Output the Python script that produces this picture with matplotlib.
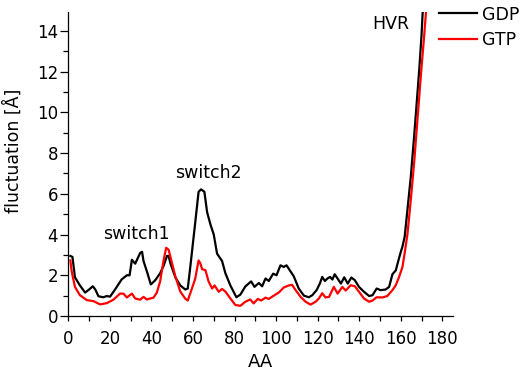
import matplotlib
matplotlib.use("Agg")
import matplotlib.pyplot as plt
from matplotlib.ticker import MultipleLocator

plt.rcParams['font.family'] = ['DejaVu Sans']

# GDP (black) trace: residue index and fluctuation [Å]
gdp_aa = [1, 2, 3.2, 5.6, 8.1, 10, 11.8, 13, 14.5, 16.9, 18.5, 20.1, 22.5, 25.7, 28.2, 29.5,
          30.6, 32.2, 34.6, 35.5, 36.2, 38.1, 39.7, 41.8, 44.2, 45.8, 47.5, 48.3, 49.1, 51.5, 53.9,
          56.3, 57.5, 58.7, 61.1, 62.7, 63.9, 65.5, 66.8, 68.4, 70.0, 71.6, 74, 75.6, 78,
          80.9, 82.8, 85.2, 88, 89.6, 91.7, 93.3, 94.9, 96.5, 98.6, 100.2, 102.1, 103.7,
          105, 106.9, 108.5, 110.9, 113.4, 115.8, 117.4, 119.5, 121.1, 122.2, 123.5, 124.7,
          126, 127.1, 128.2, 129.6, 131.2, 132.8, 134.5, 136.2, 137.9, 139.9, 142.3, 144.8,
          146.4, 148.4, 150.3, 152.7, 154.4, 156, 157.6, 159.2, 160, 160.8, 161.9, 163.2,
          164.8, 166.5, 167.7, 168.9, 170, 170.6, 171.2]
gdp_val = [2.95, 2.9, 1.9, 1.5, 1.15, 1.3, 1.46, 1.3, 0.97, 0.92, 0.98, 0.95, 1.3, 1.8, 2.0, 2.0,
           2.76, 2.57, 3.1, 3.15, 2.7, 2.1, 1.55, 1.75, 2.1, 2.45, 2.95, 2.95, 2.6, 1.9, 1.5,
           1.3, 1.35, 2.4, 4.6, 6.1, 6.22, 6.1, 5.1, 4.5, 4.0, 3.06, 2.7, 2.1, 1.5,
           0.92, 1.05, 1.45, 1.7, 1.43, 1.62, 1.46, 1.84, 1.72, 2.08, 2.0, 2.49, 2.41,
           2.49, 2.2, 1.95, 1.35, 1.0, 0.92, 1.02, 1.27, 1.6, 1.92, 1.72, 1.84,
           1.92, 1.79, 2.05, 1.84, 1.59, 1.9, 1.59, 1.89, 1.76, 1.43, 1.19, 0.98,
           1.02, 1.35, 1.27, 1.3, 1.43, 2.05, 2.24, 2.85, 3.14, 3.4, 3.9, 5.2,
           6.8, 8.9, 10.5, 12.1, 13.8, 15.0, 16.0]

# GTP (red) trace
gtp_aa = [1, 1.6, 3.2, 5.6, 8.9, 12.1, 15.3, 18.5, 21.7, 24.9, 26.5, 28.2, 30.6, 32.2, 34.6,
          36.2, 37.8, 39.4, 41, 42.6, 44.2, 45.8, 47.1, 48.3, 49.9, 51.5, 53.9, 56.3, 57.5,
          59.5, 61.1, 62.7, 63.5, 64.4, 66, 67.5, 69.2, 70.4, 72.4, 74, 75.6, 78, 80.4,
          82.8, 85.2, 87.6, 89.2, 91.2, 92.8, 94.9, 96.5, 98.9, 101.3, 103.7, 106.1,
          107.7, 109.4, 111.8, 114.2, 116.6, 119, 120.6, 122.2, 123.8, 125.5, 127.8,
          129.6, 131.9, 133.5, 135.9, 137.9, 139.9, 142.3, 144.8, 146.4, 148.4, 151.1,
          153.5, 156, 157.6, 159.2, 160.8, 161.9, 163.2, 164.8, 166.5, 168.1, 169.7,
          171.3, 172.2, 173]
gtp_val = [2.73, 2.2, 1.43, 1.02, 0.78, 0.73, 0.57, 0.63, 0.8, 1.1, 1.1, 0.91, 1.1, 0.86, 0.8,
           0.94, 0.81, 0.86, 0.9, 1.15, 1.7, 2.7, 3.35, 3.25, 2.6, 1.95, 1.2, 0.85, 0.76,
           1.35, 1.84, 2.73, 2.6, 2.3, 2.25, 1.7, 1.35, 1.5, 1.19, 1.33, 1.2, 0.86, 0.54,
           0.5, 0.7, 0.81, 0.62, 0.84, 0.76, 0.9, 0.84, 1.0, 1.15, 1.4, 1.5,
           1.53, 1.27, 0.94, 0.7, 0.56, 0.7, 0.86, 1.12, 0.91, 0.94, 1.43,
           1.1, 1.43, 1.25, 1.51, 1.46, 1.19, 0.86, 0.7, 0.76, 0.92, 0.91,
           0.98, 1.27, 1.51, 1.92, 2.4, 3.1, 4.0, 5.66, 7.6, 9.72, 11.84,
           13.8, 15.0, 16.0]

series_labels = ["GDP", "GTP"]
annotations = [("switch1", 33, 3.79), ("switch2", 67.6, 6.77), ("HVR", 155, 14.1)]

fig = plt.figure(figsize=(5.29, 3.71), dpi=100)
ax = fig.add_axes([68.3/529, 55/371, (452.7-68.3)/529, (316-12)/371])

ax.plot(gdp_aa, gdp_val, color='black', lw=1.6, label=series_labels[0])
ax.plot(gtp_aa, gtp_val, color='#ff0000', lw=1.6, label=series_labels[1])

ax.set_xlim(0, 185)
ax.set_ylim(0, 14.93)
ax.xaxis.set_major_locator(MultipleLocator(20))
ax.xaxis.set_minor_locator(MultipleLocator(10))
ax.yaxis.set_major_locator(MultipleLocator(2))
ax.yaxis.set_minor_locator(MultipleLocator(1))
ax.tick_params(axis='x', which='both', length=3.6, width=0.9, direction='out')
ax.tick_params(axis='x', which='major', labelsize=12, pad=6.8)
ax.tick_params(axis='y', which='major', length=6, width=0.9, labelsize=12, pad=1.5,
               direction='out')
ax.tick_params(axis='y', which='minor', length=3.6, width=0.9, direction='out')
for s in ['top', 'right']:
    ax.spines[s].set_visible(False)
for s in ['left', 'bottom']:
    ax.spines[s].set_linewidth(0.9)

ax.set_xlabel("AA", fontsize=13, labelpad=3)
ax.set_ylabel("fluctuation [Å]", fontsize=12.5)
ax.yaxis.set_label_coords(-0.118, 0.543)

for txt, xx, yy in annotations:
    ax.text(xx, yy, txt, fontsize=12.5, ha='center', va='baseline')

leg = ax.legend(loc='upper left', bbox_to_anchor=(439/529, 1 - 5.5/371),
                bbox_transform=fig.transFigure, frameon=False, fontsize=12.5,
                borderpad=0, borderaxespad=0, handlelength=2.2, handletextpad=0.3,
                labelspacing=0.45)

fig.savefig("out.png", dpi=100)
